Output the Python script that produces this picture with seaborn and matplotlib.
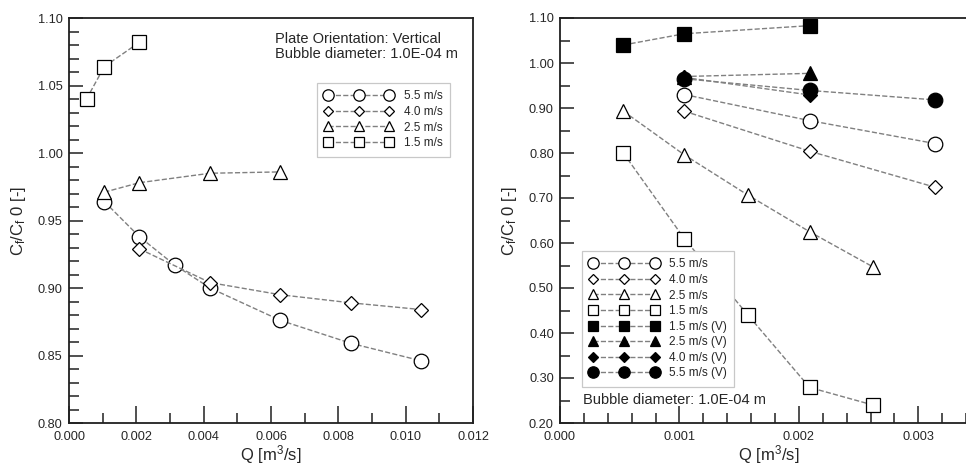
import matplotlib
matplotlib.use("Agg")
import matplotlib.pyplot as plt
import seaborn as sns
import pandas as pd
from matplotlib.ticker import MultipleLocator, FormatStrFormatter

sns.set_style("ticks")
plt.rcParams['font.family'] = ['Liberation Sans', 'DejaVu Sans']
plt.rcParams['mathtext.default'] = 'regular'

# ---- Left panel data (plate vertical) ----
L_q55 = [0.00105, 0.00209, 0.00314, 0.00419, 0.00628, 0.00838, 0.01047]
L_v55 = [0.964, 0.938, 0.917, 0.900, 0.876, 0.859, 0.846]
L_q40 = [0.00209, 0.00419, 0.00628, 0.00838, 0.01047]
L_v40 = [0.929, 0.904, 0.895, 0.889, 0.884]
L_q25 = [0.00105, 0.00209, 0.00419, 0.00628]
L_v25 = [0.971, 0.978, 0.985, 0.986]
L_q15 = [0.00052, 0.00105, 0.00209]
L_v15 = [1.040, 1.064, 1.082]

# ---- Right panel data ----
R_q55 = [0.00104, 0.00209, 0.00314]
R_v55 = [0.930, 0.872, 0.821]
R_q40 = [0.00104, 0.00209, 0.00314]
R_v40 = [0.893, 0.804, 0.724]
R_q25 = [0.00053, 0.00104, 0.00157, 0.00209, 0.00262]
R_v25 = [0.893, 0.796, 0.707, 0.625, 0.547]
R_q15 = [0.00053, 0.00104, 0.00157, 0.00209, 0.00262]
R_v15 = [0.800, 0.610, 0.441, 0.279, 0.240]
R_q15V = [0.00053, 0.00104, 0.00209]
R_v15V = [1.040, 1.065, 1.083]
R_q25V = [0.00104, 0.00209]
R_v25V = [0.970, 0.977]
R_q40V = [0.00104, 0.00209]
R_v40V = [0.968, 0.929]
R_q55V = [0.00104, 0.00209, 0.00314]
R_v55V = [0.965, 0.939, 0.918]

labels = ["5.5 m/s", "4.0 m/s", "2.5 m/s", "1.5 m/s",
          "1.5 m/s (V)", "2.5 m/s (V)", "4.0 m/s (V)", "5.5 m/s (V)"]

fig = plt.figure(figsize=(9.66, 4.66), dpi=100)
axL = fig.add_axes([69/966, 43/466, 404/966, 405/466])
axR = fig.add_axes([560/966, 43/466, 418/966, 405/466])

LINE = dict(linestyle='--', dashes=(6, 4), color='#808080', linewidth=1.0,
            markeredgecolor='black', markeredgewidth=0.9)

def series(ax, q, v, marker, ms, label, filled=False):
    df = pd.DataFrame({'Q': q, 'C': v})
    sns.lineplot(data=df, x='Q', y='C', ax=ax, marker=marker, markersize=ms,
                 markerfacecolor='black' if filled else 'white',
                 label=label, **LINE)

series(axL, L_q55, L_v55, 'o', 10.5, labels[0])
series(axL, L_q40, L_v40, 'D', 6.8, labels[1])
series(axL, L_q25, L_v25, '^', 10, labels[2])
series(axL, L_q15, L_v15, 's', 10, labels[3])

series(axR, R_q55, R_v55, 'o', 10.5, labels[0])
series(axR, R_q40, R_v40, 'D', 6.8, labels[1])
series(axR, R_q25, R_v25, '^', 10, labels[2])
series(axR, R_q15, R_v15, 's', 10, labels[3])
series(axR, R_q15V, R_v15V, 's', 10, labels[4], True)
series(axR, R_q25V, R_v25V, '^', 10, labels[5], True)
series(axR, R_q40V, R_v40V, 'D', 6.8, labels[6], True)
series(axR, R_q55V, R_v55V, 'o', 10.5, labels[7], True)

for ax in (axL, axR):
    for s in ax.spines.values():
        s.set_linewidth(1.3)
        s.set_color('#202020')
    ax.tick_params(which='both', direction='in', top=False, right=False,
                   labelsize=9.2, width=1.1, color='#202020')
    ax.tick_params(axis='y', which='both', pad=4.5)
    ax.tick_params(axis='x', which='both', pad=5.5)
    ax.tick_params(axis='y', which='major', length=10)
    ax.tick_params(axis='y', which='minor', length=7)
    ax.tick_params(axis='x', which='major', length=12)
    ax.tick_params(axis='x', which='minor', length=7)
    ax.set_xlabel('Q [m$^3$/s]', fontsize=12, labelpad=0.5)
    ax.set_ylabel('C$_f$/C$_f$ 0 [-]', fontsize=12, labelpad=7)
    ax.xaxis.set_major_formatter(FormatStrFormatter('%.3f'))
    ax.yaxis.set_major_formatter(FormatStrFormatter('%.2f'))

axL.set_xlim(0, 0.012)
axL.set_ylim(0.80, 1.10)
axL.xaxis.set_major_locator(MultipleLocator(0.002))
axL.xaxis.set_minor_locator(MultipleLocator(0.001))
axL.yaxis.set_major_locator(MultipleLocator(0.05))
axL.yaxis.set_minor_locator(MultipleLocator(0.01))

axR.set_xlim(0, 0.0035)
axR.set_ylim(0.20, 1.10)
axR.xaxis.set_major_locator(MultipleLocator(0.001))
axR.xaxis.set_minor_locator(MultipleLocator(0.0002))
axR.yaxis.set_major_locator(MultipleLocator(0.10))
axR.yaxis.set_minor_locator(MultipleLocator(0.05))

LEG = dict(numpoints=3, handlelength=5.8, handletextpad=0.9, fontsize=8.5,
           labelspacing=0.3, frameon=True, fancybox=False, framealpha=1,
           edgecolor='#c8c8c8', markerscale=0.78, borderaxespad=0,
           borderpad=0.65)
legL = axL.legend(loc='upper right', bbox_to_anchor=(0.943, 0.84), **LEG)
legR = axR.legend(loc='lower left', bbox_to_anchor=(0.053, 0.089), **LEG)
for leg in (legL, legR):
    leg.get_frame().set_linewidth(0.9)

axL.text(0.51, 0.965, 'Plate Orientation: Vertical\nBubble diameter: 1.0E-04 m',
         transform=axL.transAxes, ha='left', va='top', fontsize=10.5,
         linespacing=1.1)
axR.text(0.055, 0.057, 'Bubble diameter: 1.0E-04 m', transform=axR.transAxes,
         ha='left', va='center', fontsize=10.5)

fig.savefig('out.png', dpi=100)
